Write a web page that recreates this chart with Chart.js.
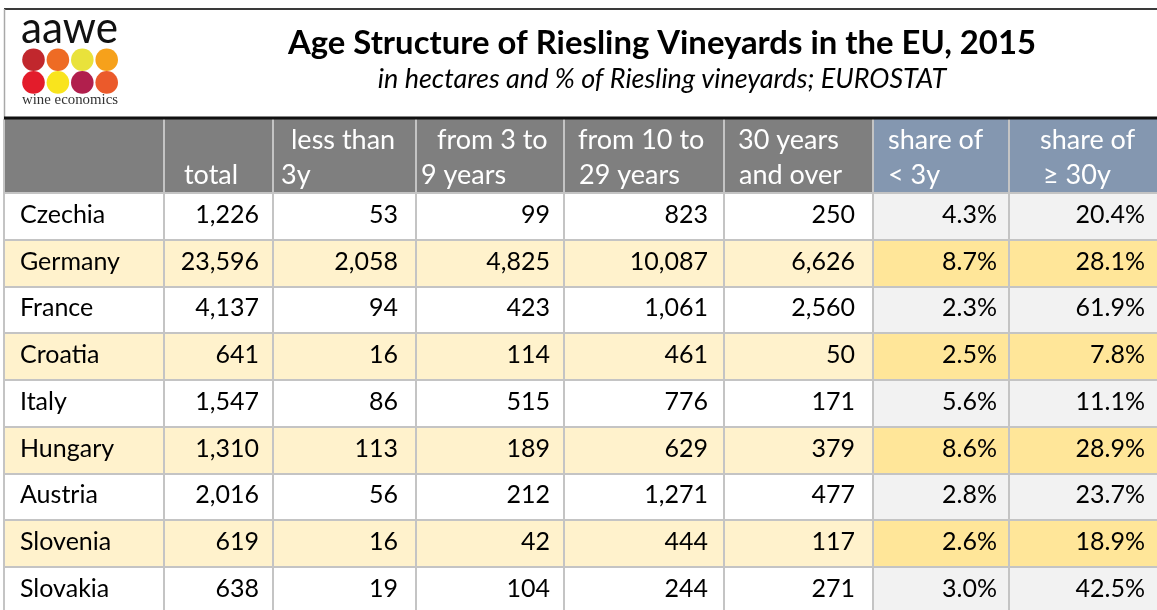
<!DOCTYPE html>
<html><head><meta charset="utf-8">
<script src="https://cdn.jsdelivr.net/npm/chart.js@4/dist/chart.umd.min.js"></script>
<style>html,body{margin:0;padding:0;background:#fff;overflow:hidden;} canvas{display:block;}</style>
</head><body>
<canvas id="c" width="1157" height="610"></canvas>
<script>
// ---------------- DATA ----------------
const categories = ['Czechia','Germany','France','Croatia','Italy','Hungary','Austria','Slovenia','Slovakia'];
const totalHa    = [1226, 23596, 4137, 641, 1547, 1310, 2016, 619, 638];
const lessThan3y = [53, 2058, 94, 16, 86, 113, 56, 16, 19];
const from3to9   = [99, 4825, 423, 114, 515, 189, 212, 42, 104];
const from10to29 = [823, 10087, 1061, 461, 776, 629, 1271, 444, 244];
const over30     = [250, 6626, 2560, 50, 171, 379, 477, 117, 271];
const shareUnder3 = [4.3, 8.7, 2.3, 2.5, 5.6, 8.6, 2.8, 2.6, 3.0];
const shareOver30 = [20.4, 28.1, 61.9, 7.8, 11.1, 28.9, 23.7, 18.9, 42.5];
const columnHeaders = [['',''], ['','total'], ['less than','3y'], ['from 3 to','9 years'], ['from 10 to','29 years'], ['30 years','and over'], ['share of','< 3y'], ['share of','\u2265 30y']];
const titleText = 'Age Structure of Riesling Vineyards in the EU, 2015';
const subtitleText = 'in hectares and % of Riesling vineyards; EUROSTAT';

// ---------------- LAYOUT / STYLE ----------------
const LAYOUT = {
  left: 4, top: 119, width: 1157, height: 610,
  colEdges: [0, 160, 269, 412, 560, 720, 869, 1005, 1153],
  headerHeight: 74, rowHeight: 46.75,
  rightPad: [0, 14, 18, 14, 16, 18, 12, 12],
  leftPad: 15,
  headerOffsets: [[0,0],[20,20],[18,8],[21,5],[14,15],[14,15],[15,15],[31,34]],
  headerBaselines: [30, 65],
  bodyBaseline: 6.5
};
const COLORS = {
  headerGray: '#7f7f7f', headerBlue: '#8497b0',
  rowWhite: '#ffffff', rowYellow: '#fff2cc',
  shareWhite: '#f2f2f2', shareYellow: '#ffe699',
  grid: '#c4c4c4', text: '#000000'
};
const FONT = 'Lato';
const BODY_FONT = '25px ' + FONT;
const HEADER_FONT = '27px ' + FONT;

const columnsText = [
  categories,
  totalHa.map(v => v.toLocaleString('en-US')),
  lessThan3y.map(v => v.toLocaleString('en-US')),
  from3to9.map(v => v.toLocaleString('en-US')),
  from10to29.map(v => v.toLocaleString('en-US')),
  over30.map(v => v.toLocaleString('en-US')),
  shareUnder3.map(v => v.toFixed(1) + '%'),
  shareOver30.map(v => v.toFixed(1) + '%')
];

const nCols = columnHeaders.length;
const edges = LAYOUT.colEdges;
const chartH = LAYOUT.height - LAYOUT.top;
const headerUnits = LAYOUT.headerHeight / LAYOUT.rowHeight;
const rowsVisible = (chartH - LAYOUT.headerHeight) / LAYOUT.rowHeight;

const datasets = [];
for (let c = 0; c < nCols; c++) {
  datasets.push({
    label: 'header' + c, role: 'header', col: c, yAxisID: 'yh',
    data: [{ y: 0, x: [edges[c], edges[c + 1]] }],
    backgroundColor: c >= 6 ? COLORS.headerBlue : COLORS.headerGray
  });
}
for (let c = 0; c < nCols; c++) {
  datasets.push({
    label: 'col' + c, role: 'body', col: c, yAxisID: 'y',
    data: categories.map((_, r) => ({ y: r, x: [edges[c], edges[c + 1]] })),
    backgroundColor: (ctx) => {
      const odd = ctx.dataIndex % 2 === 1;
      if (c >= 6) return odd ? COLORS.shareYellow : COLORS.shareWhite;
      return odd ? COLORS.rowYellow : COLORS.rowWhite;
    }
  });
}

function fitText(ctx, text, x, y, align, maxW) {
  const w = ctx.measureText(text).width;
  if (maxW && w > maxW) {
    const s = maxW / w;
    ctx.save();
    ctx.translate(x, y);
    ctx.scale(s, 1);
    ctx.textAlign = align;
    ctx.fillText(text, 0, 0);
    ctx.restore();
  } else {
    ctx.textAlign = align;
    ctx.fillText(text, x, y);
  }
}

const tablePlugin = {
  id: 'tableText',
  afterDraw(chart) {
    const ctx = chart.ctx;
    ctx.save();
    // outer frame
    ctx.strokeStyle = '#3a3a3a'; ctx.lineWidth = 2;
    ctx.beginPath(); ctx.moveTo(4, 9); ctx.lineTo(LAYOUT.width, 9); ctx.stroke();
    ctx.strokeStyle = '#a8a8a8'; ctx.lineWidth = 1.5;
    ctx.beginPath(); ctx.moveTo(4.5, 9); ctx.lineTo(4.5, LAYOUT.top); ctx.stroke();
    // black rule above header
    ctx.fillStyle = '#111';
    ctx.fillRect(chart.chartArea.left, chart.chartArea.top - 2.5, chart.chartArea.right - chart.chartArea.left, 3);

    // title
    ctx.fillStyle = '#000';
    ctx.textBaseline = 'alphabetic';
    ctx.font = 'bold 33px ' + FONT;
    fitText(ctx, titleText, 662, 54, 'center', 748);
    ctx.font = 'italic 27px ' + FONT;
    fitText(ctx, subtitleText, 662, 88, 'center', 570);

    // logo
    ctx.font = '400 44px ' + FONT;
    ctx.fillStyle = '#111';
    fitText(ctx, 'aawe', 21, 43, 'left', 97);
    const logoColors = [['#c1272d','#ee6b24','#e9e23b','#f6a11b'], ['#e31c2b','#f9e41d','#b11f4d','#eb5a2b']];
    for (let r = 0; r < 2; r++) {
      for (let k = 0; k < 4; k++) {
        ctx.fillStyle = logoColors[r][k];
        ctx.beginPath();
        ctx.arc(33.5 + k * 24.4, 59.7 + r * 22.7, 11.3, 0, Math.PI * 2);
        ctx.fill();
      }
    }
    ctx.fillStyle = '#333';
    ctx.font = '15px "Liberation Serif"';
    fitText(ctx, 'wine economics', 22, 104, 'left', 96);

    // header & body texts
    chart.data.datasets.forEach((ds, di) => {
      const meta = chart.getDatasetMeta(di);
      meta.data.forEach((el, i) => {
        const left = Math.min(el.x, el.base), right = Math.max(el.x, el.base);
        const top = el.y - el.height / 2;
        if (ds.role === 'header') {
          ctx.fillStyle = '#ffffff';
          ctx.font = HEADER_FONT;
          const lines = columnHeaders[ds.col];
          lines.forEach((t, li) => {
            if (!t) return;
            ctx.textAlign = 'left';
            ctx.fillText(t, left + LAYOUT.headerOffsets[ds.col][li], top + LAYOUT.headerBaselines[li]);
          });
        } else {
          ctx.fillStyle = COLORS.text;
          ctx.font = BODY_FONT;
          const t = columnsText[ds.col][i];
          if (ds.col === 0) {
            ctx.textAlign = 'left';
            ctx.fillText(t, left + LAYOUT.leftPad, el.y + LAYOUT.bodyBaseline);
          } else {
            ctx.textAlign = 'right';
            ctx.fillText(t, right - LAYOUT.rightPad[ds.col], el.y + LAYOUT.bodyBaseline);
          }
        }
      });
    });
    ctx.restore();
  }
};

function build() {
  new Chart(document.getElementById('c'), {
    type: 'bar',
    data: { datasets },
    options: {
      indexAxis: 'y',
      responsive: false,
      animation: false,
      devicePixelRatio: 1,
      grouped: false,
      categoryPercentage: 1,
      barPercentage: 1,
      borderWidth: 0,
      layout: { padding: { left: LAYOUT.left, top: LAYOUT.top, right: 0, bottom: 0 } },
      plugins: { legend: { display: false }, tooltip: { enabled: false }, title: { display: false } },
      events: [],
      scales: {
        x: {
          type: 'linear', min: 0, max: edges[edges.length - 1], offset: false,
          grid: { color: COLORS.grid, lineWidth: 2, drawTicks: false, z: 1, offset: false },
          border: { display: false },
          ticks: { display: false },
          afterBuildTicks: (s) => { s.ticks = edges.slice(0, -1).map(v => ({ value: v })); }
        },
        y: {
          type: 'linear', reverse: true, offset: false,
          min: -0.5 - headerUnits, max: -0.5 + rowsVisible,
          grid: { color: COLORS.grid, lineWidth: 2, drawTicks: false, z: 1, offset: false },
          border: { display: false },
          ticks: { display: false },
          afterBuildTicks: (s) => { s.ticks = categories.map((_, r) => ({ value: r - 0.5 })); }
        },
        yh: {
          type: 'linear', reverse: true, display: false, offset: false,
          grid: { offset: false },
          min: -0.5, max: -0.5 + chartH / LAYOUT.headerHeight,
          afterBuildTicks: (s) => { s.ticks = [{ value: -0.5 }, { value: 0.5 }]; }
        }
      }
    },
    plugins: [tablePlugin]
  });
}

if (document.fonts && document.fonts.load) {
  Promise.all([
    document.fonts.load(BODY_FONT), document.fonts.load(HEADER_FONT), document.fonts.load('bold 33px Lato'),
    document.fonts.load('italic 27px Lato'), document.fonts.load('400 44px Lato'),
    document.fonts.load('15px "Liberation Serif"')
  ]).then(build, build);
} else { build(); }
</script>
</body></html>
